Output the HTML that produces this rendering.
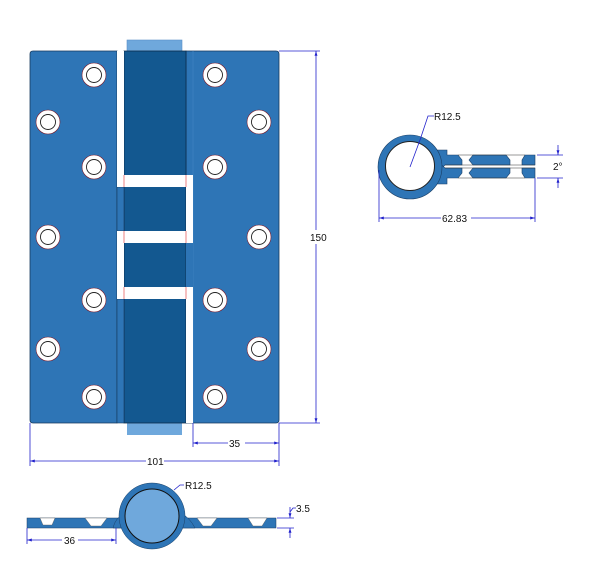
<!DOCTYPE html>
<html><head><style>body{margin:0;background:#fff}svg{display:block}text{font-family:"Liberation Sans",sans-serif;font-size:10px;fill:#111}</style></head>
<body>
<svg width="600" height="574" viewBox="0 0 600 574" xmlns="http://www.w3.org/2000/svg">
<defs><marker id="a" viewBox="0 0 10 10" refX="10" refY="5" markerWidth="6" markerHeight="6" orient="auto-start-reverse"><path d="M0,2L10,5L0,8z" fill="#2222cc"/></marker></defs>
<rect x="127" y="40" width="55" height="12" fill="#6fa8dc" stroke="#5a8fc8" stroke-width="0.6"/>
<rect x="127" y="423" width="55" height="12" fill="#6fa8dc"/>
<path d="M33,51H117V423H33Q30,423 30,420V54Q30,51 33,51z" fill="#2e75b6" stroke="#173a5e" stroke-width="0.8"/>
<path d="M186,51H276Q279,51 279,54V420Q279,423 276,423H186z" fill="#2e75b6" stroke="#173a5e" stroke-width="0.8"/>
<line x1="193" y1="51" x2="193" y2="423" stroke="#3f80c0" stroke-width="0.8"/>
<rect x="124" y="51" width="62" height="372" fill="#135890" stroke="#0c2c4a" stroke-width="0.8"/>
<rect x="117" y="187" width="7" height="44" fill="#2e75b6" stroke="#173a5e" stroke-width="0.6"/>
<rect x="117" y="299" width="7" height="124" fill="#2e75b6" stroke="#173a5e" stroke-width="0.6"/>
<rect x="186" y="243" width="7" height="44" fill="#2e75b6"/>
<g fill="#fff">
<rect x="117" y="51" width="7" height="124"/>
<rect x="117" y="231" width="7" height="56"/>
<rect x="186" y="175" width="7" height="68"/>
<rect x="186" y="287" width="7" height="136"/>
<rect x="117" y="175" width="76" height="12"/>
<rect x="117" y="231" width="76" height="12"/>
<rect x="117" y="287" width="76" height="12"/>
</g>
<g stroke="#e03030" stroke-width="0.6"><line x1="124" y1="175" x2="124" y2="187"/><line x1="186" y1="175" x2="186" y2="187"/><line x1="124" y1="231" x2="124" y2="243"/><line x1="186" y1="231" x2="186" y2="243"/><line x1="124" y1="287" x2="124" y2="299"/><line x1="186" y1="287" x2="186" y2="299"/></g>
<g fill="#fff" stroke="#7a1a2a" stroke-width="0.6">
<circle cx="94" cy="75" r="12"/><circle cx="94" cy="167" r="12"/><circle cx="94" cy="300" r="12"/><circle cx="94" cy="397" r="12"/>
<circle cx="48" cy="122" r="12"/><circle cx="48" cy="237" r="12"/><circle cx="48" cy="349" r="12"/>
<circle cx="215" cy="75" r="12"/><circle cx="215" cy="167" r="12"/><circle cx="215" cy="300" r="12"/><circle cx="215" cy="397" r="12"/>
<circle cx="259" cy="122" r="12"/><circle cx="259" cy="237" r="12"/><circle cx="259" cy="349" r="12"/>
</g>
<g fill="none" stroke="#222" stroke-width="0.9">
<circle cx="94" cy="75" r="7.5"/><circle cx="94" cy="167" r="7.5"/><circle cx="94" cy="300" r="7.5"/><circle cx="94" cy="397" r="7.5"/>
<circle cx="48" cy="122" r="7.5"/><circle cx="48" cy="237" r="7.5"/><circle cx="48" cy="349" r="7.5"/>
<circle cx="215" cy="75" r="7.5"/><circle cx="215" cy="167" r="7.5"/><circle cx="215" cy="300" r="7.5"/><circle cx="215" cy="397" r="7.5"/>
<circle cx="259" cy="122" r="7.5"/><circle cx="259" cy="237" r="7.5"/><circle cx="259" cy="349" r="7.5"/>
</g>
<g stroke="#2222cc" stroke-width="0.8" fill="none">
<line x1="279" y1="51" x2="320" y2="51"/><line x1="279" y1="423" x2="320" y2="423"/>
<line x1="316" y1="51" x2="316" y2="230" marker-start="url(#a)"/><line x1="316" y1="244" x2="316" y2="423" marker-end="url(#a)"/>
<line x1="193" y1="423" x2="193" y2="447"/><line x1="279" y1="423" x2="279" y2="466"/><line x1="30" y1="423" x2="30" y2="466"/>
<line x1="193" y1="443" x2="228" y2="443" marker-start="url(#a)"/><line x1="245" y1="443" x2="279" y2="443" marker-end="url(#a)"/>
<line x1="30" y1="461" x2="146" y2="461" marker-start="url(#a)"/><line x1="164" y1="461" x2="279" y2="461" marker-end="url(#a)"/>
</g>
<text x="310" y="241">150</text><text x="229" y="447">35</text><text x="147" y="465">101</text>
<!-- right profile -->
<g fill="#2e75b6" stroke="#1a3f66" stroke-width="0.6">
<polygon points="430,150 447,150 447,155 458,155 462,160 462,165 445,165 438,172"/>
<polygon points="430,184 447,184 447,178 458,178 462,173 462,168 445,168 438,162"/>
<polygon points="473,155 506,155 510,160 510,165 473,165 469,160"/>
<polygon points="473,178 506,178 510,173 510,168 473,168 469,173"/>
<polygon points="525,155 535,155 535,165 522,165 522,160"/>
<polygon points="525,178 535,178 535,168 522,168 522,173"/>
<circle cx="410" cy="167" r="32"/>
</g>
<g stroke="#333" stroke-width="0.6" fill="none"><line x1="458" y1="155" x2="525" y2="155"/><line x1="458" y1="178" x2="525" y2="178"/><line x1="445" y1="165" x2="535" y2="165"/><line x1="445" y1="168" x2="535" y2="168"/></g>
<circle cx="410" cy="166" r="24.5" fill="#fff" stroke="#222" stroke-width="1"/>
<g stroke="#2222cc" stroke-width="0.8" fill="none">
<polyline points="420,140 428,116 434,116"/><line x1="420" y1="140" x2="410" y2="167"/>
<line x1="379" y1="170" x2="379" y2="222"/><line x1="535" y1="178" x2="535" y2="222"/>
<line x1="379" y1="218" x2="441" y2="218" marker-start="url(#a)"/><line x1="471" y1="218" x2="535" y2="218" marker-end="url(#a)"/>
<line x1="537" y1="155" x2="563" y2="155"/><line x1="537" y1="178" x2="563" y2="178"/>
<line x1="558" y1="145" x2="558" y2="155" marker-end="url(#a)"/><line x1="558" y1="188" x2="558" y2="178" marker-end="url(#a)"/>
</g>
<text x="434" y="120">R12.5</text><text x="442" y="222">62.83</text><text x="553" y="170">2°</text>
<!-- bottom profile -->
<g fill="#2e75b6" stroke="#1a3f66" stroke-width="0.5">
<rect x="27" y="518" width="249" height="10"/>
<path d="M113,528 Q115,518 125,513 L181,513 Q190,518 195,528z"/>
<circle cx="152" cy="516" r="33"/>
</g>
<g fill="#fff" stroke="#555" stroke-width="0.4">
<polygon points="40,518 55,518 52,525 43,525"/><polygon points="85,518 107,518 101,526 91,526"/>
<polygon points="197,518 217,518 211,526 203,526"/><polygon points="248,518 267,518 262,526 253,526"/>
</g>
<circle cx="152" cy="516" r="27" fill="#6fa8dc" stroke="#111" stroke-width="1"/>
<g stroke="#2222cc" stroke-width="0.8" fill="none">
<polyline points="174,490 180,485 184,485"/>
<line x1="27" y1="528" x2="27" y2="544"/><line x1="116" y1="528" x2="116" y2="544"/>
<line x1="27" y1="540" x2="62" y2="540" marker-start="url(#a)"/><line x1="78" y1="540" x2="116" y2="540" marker-end="url(#a)"/>
<line x1="277" y1="518" x2="294" y2="518"/><line x1="277" y1="528" x2="294" y2="528"/>
<line x1="290" y1="507" x2="290" y2="518" marker-end="url(#a)"/><line x1="290" y1="538" x2="290" y2="528" marker-end="url(#a)"/>
<polyline points="290,512 293,508 296,508"/>
</g>
<text x="185" y="489">R12.5</text><text x="64" y="544">36</text><text x="296" y="512">3.5</text>
</svg>
</body></html>
